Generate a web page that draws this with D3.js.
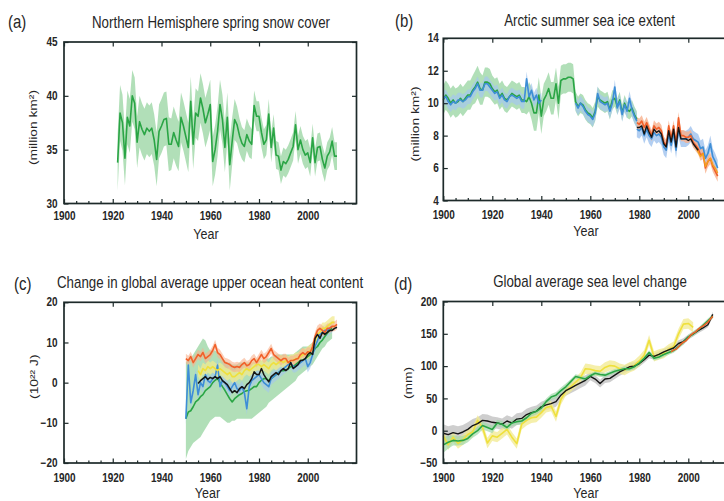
<!DOCTYPE html>
<html><head><meta charset="utf-8">
<script src="https://cdn.jsdelivr.net/npm/d3@7"></script>
<style>
html,body{margin:0;padding:0;background:#fff;}
svg{display:block;}
text{font-family:"Liberation Sans",Arial,Helvetica,sans-serif;fill:#262626;}
</style></head><body>
<svg id="chart" width="724" height="501"></svg>
<script>
// ---------------- DATA ----------------
const xTickYears = [1900, 1920, 1940, 1960, 1980, 2000];
const minorTickYears = [1905,1910,1915,1925,1930,1935,1945,1950,1955,1965,1970,1975,1985,1990,1995,2005,2010,2015];

// (a) Northern Hemisphere spring snow cover (million km2), 1922-2012
const snowStart = 1922;
const snowMean = [
 33.8,38.4,37.5,34.2,38.0,37.2,40.0,39.3,35.7,37.6,
 36.9,36.4,37.0,36.7,37.0,35.9,34.1,36.7,37.2,37.8,
 37.9,35.5,35.5,36.6,35.9,35.3,38.0,37.2,36.2,35.2,
 39.5,35.5,38.4,38.1,39.8,38.8,37.5,38.3,39.2,33.9,
 35.0,36.7,39.2,37.8,35.2,38.0,33.6,35.8,37.8,37.3,
 36.3,35.6,35.3,36.4,35.8,35.5,39.1,38.1,38.1,36.6,
 35.5,35.9,38.3,35.2,37.0,34.5,34.4,33.1,33.9,33.7,
 34.1,34.7,35.3,37.3,35.0,35.9,35.0,34.5,34.7,33.8,
 36.1,33.8,35.2,35.3,34.1,33.3,34.4,34.8,35.8,34.4,
 34.4];
const snowErr = [
 2.6,2.6,2.6,2.5,2.5,2.5,2.4,2.4,2.4,2.4,
 2.4,2.4,2.4,2.4,2.4,2.4,2.5,2.5,2.5,2.5,
 2.5,2.5,2.4,2.4,2.4,2.3,2.3,2.3,2.3,2.3,
 2.3,2.3,2.3,2.3,2.3,2.3,2.3,2.3,2.3,2.3,
 2.3,2.3,2.3,2.3,2.3,2.3,2.4,2.2,1.9,1.7,
 1.6,1.5,1.5,1.5,1.5,1.4,1.4,1.4,1.4,1.4,
 1.4,1.4,1.4,1.4,1.3,1.3,1.3,1.3,1.3,1.3,
 1.3,1.3,1.3,1.3,1.3,1.3,1.3,1.3,1.3,1.3,
 1.3,1.3,1.3,1.3,1.3,1.3,1.3,1.3,1.3,1.3,
 1.3];

// (b) Arctic summer sea ice extent (million km2)
const iceHistStart = 1900;
const iceGreen = [
 10.2,10.5,10.3,10.0,10.2,10.0,10.1,10.3,10.1,10.3,
 10.5,10.5,10.8,11.0,11.3,10.9,10.8,11.3,11.3,11.2,
 10.9,10.7,10.8,10.4,10.6,10.3,10.2,10.4,10.6,10.5,
 10.4,10.5,10.2,10.2,10.1,10.4,10.0,9.4,9.4,10.5,
 9.2,10.2,10.5,10.9,10.3,10.3,11.2,10.0,11.4,11.5,
 11.5,11.6,11.6,11.5,10.1,9.8,10.0,9.9,9.6,9.4,
 9.3,9.1,9.5,10.4,10.2,10.1,10.0,10.1,9.6,10.2,
 10.3,9.8,10.2,9.4,10.0,9.6,9.5,9.7,9.3,9.0];
const iceGreenErr = [
 0.9,0.9,0.9,0.9,0.9,0.9,0.9,0.9,0.9,0.9,
 0.9,0.9,0.9,1.0,1.0,1.0,0.9,0.9,0.9,0.9,
 0.8,0.8,0.8,0.8,0.8,0.8,0.8,0.8,0.8,0.8,
 0.8,0.8,0.8,0.8,0.8,0.9,1.0,1.1,1.1,1.1,
 1.1,1.0,1.0,1.0,1.0,1.0,1.0,1.0,0.9,0.9,
 0.9,0.9,0.9,0.9,0.6,0.6,0.6,0.6,0.6,0.6,
 0.6,0.6,0.6,0.6,0.6,0.6,0.6,0.6,0.6,0.6,
 0.5,0.5,0.5,0.5,0.5,0.5,0.5,0.5,0.5,0.5];
const iceBlue = [
 10.3,10.4,10.1,9.9,10.1,10.0,10.2,10.2,10.1,10.2,
 10.4,10.4,10.7,10.9,11.2,10.8,10.8,11.2,11.2,11.0,
 10.8,10.6,10.7,10.3,10.5,10.2,10.1,10.4,10.5,10.4,
 10.3,10.4,10.1,10.1,11.5,10.4,10.8,10.2,10.5,10.0,
 10.2,null,null,null,null,null,null,null,null,null,
 null,null,null,null,10.0,9.7,10.0,9.8,9.5,9.3,
 9.2,9.0,9.4,10.6,10.1,10.0,9.9,10.0,9.5,10.0,
 11.0,9.7,10.1,9.3,9.9,9.5,10.3,9.6,9.2,8.9];
const iceBlueErr = 0.45;
const iceSatStart = 1979;
const iceRed = [
 8.8,8.7,8.9,8.5,8.8,8.4,8.0,8.6,8.4,8.5,
 8.3,7.6,7.4,8.6,7.8,8.6,7.5,9.1,8.0,8.0,
 7.9,7.9,8.0,7.6,7.4,7.2,6.8,6.9,6.0,6.4,
 6.6,6.1,5.8,5.5];
const iceRedErr = 0.35;
const iceBlueSat = [
 8.4,8.3,8.5,8.0,8.4,8.0,7.8,8.2,8.0,8.1,
 7.9,7.3,7.1,8.1,7.4,8.2,7.1,8.4,7.8,7.8,
 7.8,7.9,8.1,7.8,7.7,7.6,7.2,7.3,6.6,6.9,
 7.5,6.7,6.4,6.0];
const iceBlueSatErr = 0.5;
const iceBlack = [
 8.5,8.5,8.6,8.1,8.6,8.2,7.9,8.4,8.2,8.3,
 8.1,7.5,7.3,8.3,7.6,8.4,7.3,8.5,7.8,7.8,
 7.8,7.7,7.8,7.5,7.3,7.1];
const iceYellowStart = 2003;
const iceYellow = [7.3,7.0,6.7,6.9,6.1,6.4,6.6,6.2,6.0,5.7];

// (c) Change in global average upper ocean heat content (10^22 J)
const ohcOrangeStart = 1950;
const ohcOrange = [
 6.0,5.5,6.5,5.0,6.0,7.0,6.5,7.5,6.0,6.5,
 7.0,8.0,9.5,7.5,7.0,6.0,5.0,4.8,4.5,4.0,
 3.8,4.0,3.8,4.5,5.0,4.2,4.5,5.5,6.0,5.0,
 6.0,7.0,6.0,6.5,7.5,8.5,7.0,6.5,6.0,5.5,
 6.0,6.0,5.0,5.5,5.5,5.8,6.0,7.0,7.5,7.0,
 7.7,7.5,9.0,11.5,13.0,13.5,13.0,12.5,13.5,13.5,
 14.0,14.0,14.5];
const ohcOrangeErr = 1.2;
const ohcBlackStart = 1955;
const ohcBlack = [
 -0.2,0.5,1.0,1.5,0.8,
 1.3,1.0,1.5,1.0,1.5,0.5,0.0,-0.5,-1.5,-2.5,
 -2.0,-2.5,-1.5,-1.0,-1.5,-0.5,0.0,1.0,2.7,2.0,
 2.0,3.5,2.0,1.0,0.2,1.5,2.0,2.5,2.0,3.0,
 3.5,3.0,3.5,5.0,3.5,4.0,4.5,5.5,5.6,6.0,
 7.0,7.5,7.0,11.0,12.0,11.0,12.5,12.0,12.5,13.0,
 13.0,13.5,13.8];
const ohcGreenStart = 1950;
const ohcGreen = [
 -9.0,-7.3,-7.0,-6.0,-4.8,-4.3,-3.5,-3.0,-2.0,-1.5,
 -1.0,0.0,0.6,1.0,0.0,-1.0,-1.9,-3.0,-4.0,-4.8,
 -4.0,-3.5,-3.0,-2.7,-2.2,-2.0,-1.9,-1.5,-1.0,-1.0,
 0.0,0.6,1.0,1.0,0.5,1.0,1.5,2.0,2.5,3.0,
 3.0,3.1,3.5,4.0,4.0,4.5,5.0,5.5,5.6,6.0,
 6.5,7.0,7.5,8.5,9.0,10.0,10.6,11.5,12.3,13.0,
 13.5];
const ohcGreenHi = [
 5,6,6,7,8,9,10,11,10.5,9,
 8,8,8,7.5,7,6,5.5,5,5,4.5,
 4.5,4.5,5,5,5,5,5,5,5,5,
 5.5,5.5,5.5,6,6,6.5,6.5,7,7,7,
 7,7,7,7,7,7.5,8,8.5,9,9,
 9,9.5,10,11,11.5,12.5,13,13.5,14,14.5,
 15];
const ohcGreenLo = [
 -19,-17,-16,-15,-14.5,-14,-13.5,-12.5,-11.5,-10.5,
 -9.5,-9,-8.5,-8.5,-8.5,-9,-9.5,-10,-10,-9.5,
 -9.5,-9,-9,-9,-9,-9,-9,-9,-8.5,-8,
 -7.5,-7,-6.5,-6,-5,-4.5,-4,-3.5,-3,-2.5,
 -2,-1.5,-1,-0.5,0,0.5,1.5,2,2.5,3,
 3.5,4,4.5,5.5,6.5,7.5,8.5,9,10,10.5,
 11];
const ohcBlueStart = 1950;
const ohcBlue = [
 -9.0,4.4,-5.0,-2.0,2.0,-3.0,0.0,-1.0,2.0,0.5,
 0.0,1.0,1.5,4.4,-1.0,0.5,0.0,-1.0,-2.0,-1.0,
 0.0,-1.5,-2.0,-1.0,-2.5,-6.5,-1.0,0.5,1.0,1.5,
 2.0,1.0,0.0,-0.5,-1.0,1.0,1.5,2.0,2.5,3.0,
 3.5,4.0,4.5,5.0,4.0,4.0,4.5,5.0,5.5,6.0,
 4.0,5.0,7.0,9.0,10.5,12.0,12.5,13.0,13.0,13.5,
 14.0];
const ohcBlueErr = 1.5;
const ohcYellowStart = 1955;
const ohcYellow = [
 3.0,2.0,3.5,3.0,4.0,
 3.5,4.0,3.5,3.0,3.5,3.0,2.5,2.0,2.5,1.5,
 1.5,2.0,2.5,2.0,3.0,3.5,3.0,3.5,4.0,4.5,
 4.5,4.0,4.5,4.0,3.5,4.5,5.0,4.5,5.0,5.5,
 5.0,5.5,5.0,5.5,5.5,6.0,6.0,6.5,7.0,7.0,
 7.5,8.0,8.5,10.5,12.0,12.5,13.5,13.5,14.0,14.5,
 15.0,15.0];
const ohcYellowErr = 1.5;

// (d) Global average sea level change (mm), two-year steps
const slStart = 1900, slStep = 2;
const slGreen = [
 -22,-18,-15,-16,-15,-12,-5,0,8,5,
 2,12,10,5,12,14,15,20,27,30,
 35,45,52,55,62,68,76,84,82,80,
 85,89,87,86,89,92,94,96,96,99,
 105,112,121,112,114,118,121,124,130,137,
 145,150,156,163,170,177];
const slGreenErr = [
 12,10,8,7,7,6,6,6,6,6,
 6,5,5,5,5,5,5,5,5,5,
 5,5,5,5,5,5,3.5,3.5,3.5,3.5,
 3.5,3.5,3.5,3.5,3.5,3.5,3.5,3.5,3.5,3.5,
 3.5,3.5,3.5,3.5,3.5,3.5,3.5,3.5,3.5,3.5,
 3.5,3.5,3.5,3.5,3.5,3.5];
const slBlack = [
 -4,-6,-3,-5,-2,2,8,11,16,15,
 13,12,10,15,12,18,19,25,28,30,
 37,40,42,45,55,62,66,70,74,78,
 84,80,73,80,81,86,91,95,99,100,
 104,110,117,115,118,122,125,128,135,138,
 145,150,155,159,164,180];
const slBlackErr = [
 14,13,12,12,11,11,10,10,10,10,
 9,9,9,9,9,9,9,9,9,9,
 8,8,8,8,8,8,8,8,8,8,
 6,6,6,6,6,6,6,6,6,6,
 5,5,5,5,5,5,5,5,5,5,
 4,4,4,4,4,4];
const slYellow = [
 -8,-22,-10,-20,-14,-6,-2,16,5,-19,
 -8,-10,-4,2,-10,-20,10,16,20,21,
 28,36,38,22,48,62,68,75,82,96,
 95,93,92,98,101,100,96,94,98,101,
 108,117,140,115,118,120,126,130,150,165,
 166,160];
const slYellowErr = 8;
const slOrangeStart = 1993;
const slOrange = [122,125,126,130,134,137,139,143,148,151,153,157,160,162,165,168,173,177];

// ---------------- DRAWING ----------------
const svg = d3.select("#chart");
const FRAME = "#1d2a2a";
const xDomain = [1900, 2020];
const C = {
  green: "#2aa545", greenBand: "#a3d9ab",
  blue: "#3d8ed6", blueBand: "#a4c6ee",
  orange: "#f1602a", orangeBand: "#f8b08c",
  yellow: "#efe03c", yellowBand: "#f2e98f",
  black: "#151515", greyBand: "#a5a5a5"
};

function seq(start, vals, step) {
  step = step || 1;
  return vals.map((v, i) => ({ year: start + i * step, v: v }));
}
function bandErr(start, vals, err, step) {
  step = step || 1;
  return vals.map((v, i) => {
    const e = Array.isArray(err) ? err[i] : err;
    return { year: start + i * step, lo: v == null ? null : v - e, hi: v == null ? null : v + e };
  });
}
function bandLoHi(start, lo, hi, step) {
  step = step || 1;
  return lo.map((l, i) => ({ year: start + i * step, lo: l, hi: hi[i] }));
}

function sText(g, x, y, str, o) {
  const t = g.append("text")
    .attr("transform", `translate(${x},${y}) scale(1,${o.sy || 1.2})${o.rot ? " rotate(-90)" : ""}`)
    .attr("text-anchor", o.anchor || "middle")
    .style("font-size", o.size + "px")
    .style("font-weight", o.weight || "normal")
    .text(str);
  if (o.rot) t.attr("dy", "0.35em");
  return t;
}

function drawPanel(p) {
  const g = svg.append("g");
  const x = d3.scaleLinear().domain(xDomain).range([p.left, p.right]);
  const y = d3.scaleLinear().domain(p.yDomain).range([p.bottom, p.top]);

  const area = d3.area().defined(d => d.lo != null).x(d => x(d.year)).y0(d => y(d.lo)).y1(d => y(d.hi));
  const line = d3.line().defined(d => d.v != null).x(d => x(d.year)).y(d => y(d.v));

  p.bands.forEach(b => {
    g.append("path").datum(b.data).attr("d", area)
      .attr("fill", b.color).attr("fill-opacity", b.opacity || 0.75).attr("stroke", "none");
  });
  p.lines.forEach(l => {
    g.append("path").datum(l.data).attr("d", line)
      .attr("fill", "none").attr("stroke", l.color).attr("stroke-width", l.width || 1.6)
      .attr("stroke-linejoin", "round");
  });

  // frame
  g.append("rect").attr("x", p.left).attr("y", p.top)
    .attr("width", p.right - p.left).attr("height", p.bottom - p.top)
    .attr("fill", "none").attr("stroke", FRAME).attr("stroke-width", 1.7);

  const axStyle = s => { s.select(".domain").remove(); s.attr("color", FRAME).selectAll("line").attr("stroke-width", 1.2); };

  // minor bottom ticks
  g.append("g").attr("transform", `translate(0,${p.bottom})`)
    .call(d3.axisBottom(x).tickValues(minorTickYears).tickSize(-2.5).tickFormat(""))
    .call(axStyle);
  // major bottom ticks + labels
  const xb = g.append("g").attr("transform", `translate(0,${p.bottom})`)
    .call(d3.axisBottom(x).tickValues(xTickYears).tickSize(-4.5).tickFormat(d3.format("d")))
    .call(axStyle);
  xb.attr("font-family", null).attr("font-size", null);
  xb.selectAll("text").attr("y", null).attr("dy", null)
    .attr("transform", `translate(0,${p.xLabelY - p.bottom}) scale(1,1.2)`)
    .style("font-size", "10px").style("font-weight", "bold").attr("fill", "#2a2a2a");
  // top ticks
  g.append("g").attr("transform", `translate(0,${p.top})`)
    .call(d3.axisTop(x).tickValues(xTickYears).tickSize(-4.5).tickFormat(""))
    .call(axStyle);
  // left ticks + labels
  const yl = g.append("g").attr("transform", `translate(${p.left},0)`)
    .call(d3.axisLeft(y).tickValues(p.yTicks).tickSize(-4.5).tickFormat(d3.format("d")))
    .call(axStyle);
  yl.attr("font-family", null).attr("font-size", null);
  yl.selectAll("text").attr("x", null).attr("dy", null)
    .attr("transform", `translate(${-p.yLabelGap},3.6) scale(1,1.2)`)
    .style("font-size", "10px").style("font-weight", "bold").attr("fill", "#2a2a2a");
  // right ticks
  g.append("g").attr("transform", `translate(${p.right},0)`)
    .call(d3.axisRight(y).tickValues(p.yTicks).tickSize(-4.5).tickFormat(""))
    .call(axStyle);

  // texts
  sText(g, p.tagX, p.tagY, p.tag, { size: 15, anchor: "start" });
  sText(g, p.titleX, p.titleY, p.title, { size: 13.3, anchor: p.titleAnchor || "middle" });
  sText(g, p.yearX, p.yearY, "Year", { size: 12.5, sy: 1.15 });
  sText(g, p.yTitleX, p.yTitleY, p.yTitle, { size: 11.5, rot: true });
}

// Panel (a)
drawPanel({
  left: 64, right: 356.5, top: 42, bottom: 203.5,
  yDomain: [30, 45], yTicks: [30, 35, 40, 45], yLabelGap: 6.5, xLabelY: 219.5,
  tag: "(a)", tagX: 8, tagY: 28,
  title: "Northern Hemisphere spring snow cover", titleX: 211, titleY: 27.5,
  yearX: 206, yearY: 238.5, yTitle: "(million km²)", yTitleX: 33, yTitleY: 127.5,
  bands: [{ data: bandErr(snowStart, snowMean, snowErr), color: C.greenBand, opacity: 0.85 }],
  lines: [{ data: seq(snowStart, snowMean), color: C.green }]
});

// Panel (b)
drawPanel({
  left: 443.3, right: 737.3, top: 38.3, bottom: 200.5,
  yDomain: [4, 14], yTicks: [4, 6, 8, 10, 12, 14], yLabelGap: 4.5, xLabelY: 218.5,
  tag: "(b)", tagX: 395, tagY: 27,
  title: "Arctic summer sea ice extent", titleX: 589.5, titleY: 25.5,
  yearX: 586, yearY: 235.5, yTitle: "(million km²)", yTitleX: 414.5, yTitleY: 124,
  bands: [
    { data: bandErr(iceHistStart, iceGreen, iceGreenErr), color: C.greenBand, opacity: 0.85 },
    { data: bandErr(iceHistStart, iceBlue, iceBlueErr), color: C.blueBand, opacity: 0.7 },
    { data: bandErr(iceSatStart, iceBlueSat, iceBlueSatErr), color: C.blueBand, opacity: 0.85 },
    { data: bandErr(iceSatStart, iceRed, iceRedErr), color: C.orangeBand, opacity: 0.8 }
  ],
  lines: [
    { data: seq(iceHistStart, iceGreen), color: C.green },
    { data: seq(iceHistStart, iceBlue), color: C.blue },
    { data: seq(iceSatStart, iceBlueSat), color: C.blue },
    { data: seq(iceSatStart, iceRed), color: C.orange },
    { data: seq(iceYellowStart, iceYellow), color: "#f3a21c", width: 1.3 },
    { data: seq(iceSatStart, iceBlack), color: C.black, width: 1.4 }
  ]
});

// Panel (c)
drawPanel({
  left: 64, right: 356.5, top: 302.3, bottom: 463,
  yDomain: [-20, 20], yTicks: [-20, -10, 0, 10, 20], yLabelGap: 6.5, xLabelY: 481.5,
  tag: "(c)", tagX: 14, tagY: 290,
  title: "Change in global average upper ocean heat content", titleX: 57, titleY: 288, titleAnchor: "start",
  yearX: 207.5, yearY: 497.5, yTitle: "(10²² J)", yTitleX: 34, yTitleY: 376.7,
  bands: [
    { data: bandLoHi(ohcGreenStart, ohcGreenLo, ohcGreenHi), color: C.greenBand, opacity: 0.85 },
    { data: bandErr(ohcBlueStart, ohcBlue, ohcBlueErr), color: C.blueBand, opacity: 0.6 },
    { data: bandErr(ohcYellowStart, ohcYellow, ohcYellowErr), color: C.yellowBand, opacity: 0.75 },
    { data: bandErr(ohcOrangeStart, ohcOrange, ohcOrangeErr), color: C.orangeBand, opacity: 0.6 }
  ],
  lines: [
    { data: seq(ohcGreenStart, ohcGreen), color: C.green },
    { data: seq(ohcBlueStart, ohcBlue), color: C.blue },
    { data: seq(ohcYellowStart, ohcYellow), color: C.yellow },
    { data: seq(ohcOrangeStart, ohcOrange), color: C.orange },
    { data: seq(ohcBlackStart, ohcBlack), color: C.black, width: 1.5 }
  ]
});

// Panel (d)
drawPanel({
  left: 443.3, right: 737.3, top: 301.5, bottom: 463,
  yDomain: [-50, 200], yTicks: [-50, 0, 50, 100, 150, 200], yLabelGap: 6, xLabelY: 482,
  tag: "(d)", tagX: 394, tagY: 290,
  title: "Global average sea level change", titleX: 590, titleY: 287,
  yearX: 586, yearY: 497.5, yTitle: "(mm)", yTitleX: 408, yTitleY: 383,
  bands: [
    { data: bandErr(slStart, slBlack, slBlackErr, slStep), color: C.greyBand, opacity: 0.55 },
    { data: bandErr(slStart, slYellow, slYellowErr, slStep), color: C.yellowBand, opacity: 0.75 },
    { data: bandErr(slStart, slGreen, slGreenErr, slStep), color: C.greenBand, opacity: 0.7 }
  ],
  lines: [
    { data: seq(slStart, slYellow, slStep), color: C.yellow },
    { data: seq(slStart, slBlack, slStep), color: C.black, width: 1.4 },
    { data: seq(slStart, slGreen, slStep), color: C.green },
    { data: seq(slOrangeStart, slOrange), color: C.orange }
  ]
});
</script>
</body></html>
